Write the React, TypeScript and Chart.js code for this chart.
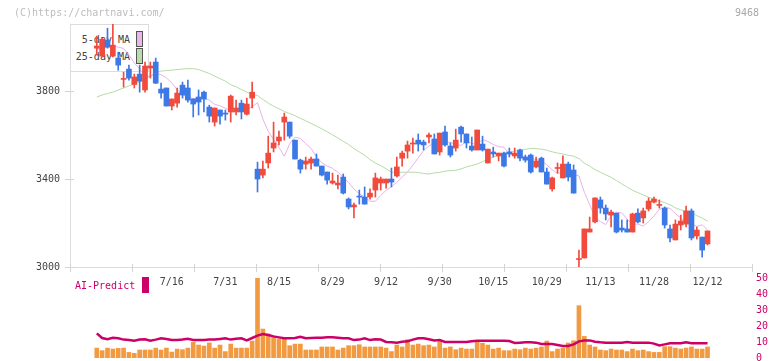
import React, { useEffect, useRef } from "react";
import { Chart, registerables } from "chart.js";
Chart.register(...registerables);

const FONT = "'DejaVu Sans Mono', monospace";
const UP = "#f04b3c";
const DOWN = "#3c78e6";

// x positions are trading-day indices (6/26 .. 12/12)
const X_MIN = -5;
const X_MAX = 122.3;

const dateTicks = ["7/16", "7/31", "8/15", "8/29", "9/12", "9/30", "10/15", "10/29", "11/13", "11/28", "12/12"];
const dateTickIndex = [14, 24, 34, 44, 54, 64, 74, 84, 94, 104, 114];
const priceTicks = [3000, 3400, 3800];
const rightTicks = [0, 10, 20, 30, 40, 50];
const markSlots = [0, 1, 2, 3, 4, 5, 6, 7, 8, 9, 10, 11];

const opens = [
  3995, 3959, 4032, 3959, 3950, 3853, 3900, 3830, 3877, 3805, 3905, 3932, 3809, 3814, 3732, 3745, 3827, 3814, 3764, 3773,
  3795, 3727, 3659, 3714, 3700, 3705, 3705, 3745, 3695, 3768, 3445, 3418, 3473, 3541, 3573, 3659, 3659, 3577, 3486, 3468,
  3473, 3491, 3459, 3432, 3382, 3373, 3409, 3309, 3273, 3320, 3318, 3318, 3350, 3382, 3382, 3400, 3414, 3495, 3527, 3559,
  3577, 3568, 3591, 3582, 3523, 3614, 3550, 3541, 3636, 3605, 3550, 3532, 3559, 3473, 3523, 3505, 3518, 3523, 3505, 3532,
  3500, 3509, 3455, 3495, 3432, 3355, 3448, 3405, 3468, 3441, 3034, 3041, 3159, 3205, 3305, 3268, 3236, 3245, 3177, 3173,
  3159, 3245, 3223, 3264, 3295, 3280, 3268, 3173, 3123, 3191, 3195, 3255, 3141, 3136, 3105,
];
const highs = [
  4050, 4040, 4086, 4105, 3977, 3886, 3918, 3877, 3918, 3932, 3932, 3950, 3836, 3814, 3764, 3814, 3841, 3850, 3764, 3805,
  3800, 3736, 3723, 3714, 3714, 3782, 3759, 3759, 3768, 3841, 3477, 3482, 3595, 3659, 3618, 3700, 3659, 3577, 3491, 3500,
  3500, 3514, 3459, 3432, 3427, 3418, 3423, 3314, 3291, 3350, 3364, 3355, 3427, 3409, 3400, 3450, 3500, 3527, 3573, 3586,
  3605, 3577, 3609, 3605, 3609, 3641, 3564, 3627, 3641, 3605, 3591, 3623, 3595, 3536, 3545, 3518, 3523, 3541, 3541, 3536,
  3509, 3514, 3500, 3500, 3450, 3409, 3473, 3505, 3477, 3464, 3077, 3173, 3227, 3314, 3318, 3282, 3259, 3245, 3214, 3214,
  3245, 3264, 3268, 3314, 3318, 3305, 3273, 3191, 3214, 3236, 3277, 3264, 3182, 3136, 3164,
];
const lows = [
  3964, 3955, 3995, 3955, 3895, 3818, 3850, 3814, 3795, 3795, 3859, 3834, 3768, 3732, 3714, 3727, 3768, 3750, 3682, 3691,
  3705, 3659, 3641, 3650, 3668, 3659, 3691, 3673, 3691, 3723, 3341, 3405, 3450, 3523, 3555, 3577, 3586, 3491, 3427, 3445,
  3445, 3459, 3414, 3377, 3377, 3355, 3332, 3264, 3223, 3286, 3286, 3309, 3318, 3350, 3359, 3364, 3409, 3459, 3495, 3518,
  3527, 3532, 3564, 3514, 3509, 3550, 3500, 3527, 3568, 3541, 3527, 3532, 3527, 3473, 3500, 3482, 3455, 3500, 3495, 3482,
  3477, 3427, 3450, 3432, 3377, 3345, 3427, 3405, 3391, 3336, 3000, 3041, 3159, 3200, 3245, 3214, 3182, 3155, 3159, 3159,
  3159, 3200, 3200, 3255, 3291, 3268, 3177, 3114, 3123, 3168, 3182, 3123, 3127, 3045, 3100,
];
const closes = [
  4005, 4036, 4000, 4009, 3918, 3856, 3859, 3864, 3845, 3914, 3914, 3836, 3791, 3732, 3764, 3791, 3782, 3759, 3741, 3750,
  3764, 3686, 3723, 3686, 3695, 3777, 3723, 3705, 3741, 3795, 3400, 3445, 3518, 3564, 3591, 3682, 3595, 3491, 3445, 3482,
  3491, 3459, 3418, 3395, 3391, 3382, 3336, 3273, 3282, 3318, 3286, 3336, 3405, 3400, 3400, 3386, 3455, 3518, 3555, 3564,
  3559, 3555, 3600, 3514, 3609, 3555, 3509, 3577, 3605, 3564, 3532, 3623, 3532, 3536, 3514, 3518, 3459, 3514, 3518, 3495,
  3486, 3432, 3482, 3432, 3377, 3405, 3450, 3468, 3409, 3336, 3036, 3173, 3173, 3314, 3268, 3241, 3250, 3159, 3168, 3159,
  3241, 3205, 3255, 3300, 3309, 3282, 3191, 3132, 3195, 3209, 3255, 3132, 3168, 3077, 3164,
];
const ma5 = [
  3990, 3995, 4000, 4004, 4000, 3994, 3964, 3928, 3901, 3868, 3868, 3879, 3875, 3860, 3837, 3807, 3783, 3772, 3766, 3767,
  3765, 3759, 3740, 3733, 3722, 3711, 3713, 3721, 3717, 3728, 3748, 3673, 3617, 3580, 3544, 3504, 3560, 3590, 3585, 3561,
  3539, 3501, 3474, 3459, 3449, 3431, 3409, 3384, 3355, 3333, 3318, 3299, 3299, 3325, 3349, 3365, 3385, 3409, 3432, 3463,
  3496, 3530, 3550, 3567, 3558, 3567, 3567, 3557, 3553, 3571, 3562, 3557, 3580, 3571, 3557, 3547, 3545, 3512, 3508, 3505,
  3501, 3494, 3489, 3483, 3465, 3442, 3426, 3429, 3426, 3422, 3414, 3340, 3284, 3225, 3206, 3193, 3234, 3249, 3246, 3217,
  3195, 3195, 3186, 3206, 3232, 3262, 3270, 3267, 3243, 3222, 3202, 3196, 3185, 3192, 3168,
];
const ma25 = [
  3773, 3782, 3789, 3795, 3805, 3814, 3823, 3832, 3841, 3855, 3868, 3882, 3891, 3893, 3895, 3898, 3900, 3902, 3902, 3898,
  3889, 3880, 3868, 3857, 3845, 3829, 3820, 3807, 3795, 3785, 3780, 3762, 3745, 3731, 3720, 3707, 3698, 3688, 3676, 3665,
  3653, 3641, 3628, 3615, 3601, 3587, 3571, 3557, 3539, 3523, 3508, 3488, 3473, 3461, 3447, 3431, 3431, 3431, 3431, 3431,
  3430, 3425, 3423, 3428, 3430, 3436, 3438, 3440, 3446, 3455, 3462, 3468, 3479, 3490, 3500, 3508, 3517, 3522, 3526, 3531,
  3535, 3539, 3538, 3536, 3531, 3524, 3518, 3514, 3508, 3504, 3493, 3472, 3459, 3443, 3431, 3419, 3408, 3393, 3378, 3363,
  3349, 3338, 3328, 3317, 3309, 3301, 3293, 3283, 3269, 3260, 3253, 3247, 3234, 3222, 3209,
];
const volume = [
  6.2, 4.6, 6.2, 5.6, 6.0, 6.2, 3.5, 2.9, 5.0, 5.0, 5.0, 6.2, 5.0, 6.2, 3.7, 5.6, 5.2, 6.2, 9.8, 8.1,
  7.5, 9.4, 6.2, 8.1, 4.0, 8.7, 6.2, 6.2, 6.2, 10.6, 50.2, 18.1, 15.0, 12.9, 11.9, 11.9, 7.7, 8.7, 8.7, 5.0,
  5.0, 5.0, 6.9, 6.9, 6.9, 5.0, 6.2, 7.7, 7.7, 8.3, 6.9, 6.9, 6.9, 6.9, 6.2, 4.0, 8.1, 6.9, 11.5, 8.1,
  8.7, 7.7, 8.1, 6.9, 10.2, 6.2, 6.9, 5.2, 6.2, 5.6, 5.6, 9.8, 9.2, 8.1, 5.6, 6.2, 4.6, 4.6, 5.6, 5.2,
  6.2, 5.6, 6.2, 6.9, 10.6, 4.0, 5.6, 6.2, 9.4, 10.8, 32.7, 13.5, 8.1, 6.9, 5.0, 4.6, 5.6, 5.0, 5.0, 4.0,
  5.6, 4.6, 5.0, 4.0, 3.5, 3.5, 7.1, 7.1, 6.2, 5.6, 6.2, 6.9, 5.6, 5.6, 6.9,
];
const aiPredict = [
  15.4, 12.5, 11.7, 12.6, 12.3, 11.5, 11.3, 10.8, 11.5, 11.7, 10.8, 11.5, 12.3, 11.9, 11.2, 11.2, 11.5, 12.0, 11.2, 11.2,
  11.2, 11.5, 11.5, 11.9, 12.3, 11.5, 12.0, 12.3, 11.0, 12.5, 14.0, 15.0, 14.4, 13.5, 12.9, 12.3, 12.3, 12.5, 13.3, 12.3,
  12.5, 12.7, 12.7, 12.9, 12.9, 12.7, 12.3, 12.3, 11.2, 11.5, 12.3, 11.2, 11.7, 11.5, 10.0, 9.8, 9.6, 10.2, 10.4, 11.5,
  12.3, 12.3, 11.7, 11.0, 11.2, 10.0, 10.0, 10.0, 10.0, 10.0, 10.4, 10.8, 10.8, 10.8, 10.8, 10.8, 10.8, 10.6, 9.4, 9.6,
  9.8, 9.8, 9.6, 8.8, 8.7, 8.7, 8.1, 7.5, 7.5, 8.5, 10.4, 11.0, 11.0, 10.2, 9.8, 9.6, 9.6, 9.6, 9.6, 10.0,
  9.6, 9.6, 9.6, 9.6, 9.0, 7.8, 8.5, 9.2, 9.2, 9.2, 9.8, 9.2, 9.2, 9.2, 9.2,
];

const abs = (style: React.CSSProperties): React.CSSProperties => ({ position: "absolute", ...style });
const txt: React.CSSProperties = { fontFamily: FONT, fontSize: 10, lineHeight: "12px", whiteSpace: "pre" };

export default function App() {
  const mainRef = useRef<HTMLCanvasElement>(null);
  const subRef = useRef<HTMLCanvasElement>(null);

  useEffect(() => {
    const idx = closes.map((_, i) => i);
    const candleColor = (ctx: any) => (closes[ctx.dataIndex] >= opens[ctx.dataIndex] ? UP : DOWN);
    const font = { family: FONT, size: 10 };

    const crossTicks = {
      id: "crossTicks",
      beforeDatasetsDraw(chart: any) {
        const { ctx, chartArea } = chart;
        const y = chart.scales.y;
        const xg = chart.scales.xg;
        ctx.save();
        ctx.strokeStyle = "#d4d4d4";
        ctx.lineWidth = 1;
        ctx.beginPath();
        for (const v of priceTicks) {
          const py = Math.round(y.getPixelForValue(v)) + 0.5;
          ctx.moveTo(chartArea.left - 5, py);
          ctx.lineTo(chartArea.left + 4, py);
        }
        for (const v of markSlots) {
          const px = Math.round(xg.getPixelForValue(v)) + 0.5;
          ctx.moveTo(px, chartArea.bottom - 3);
          ctx.lineTo(px, chartArea.bottom + 5);
        }
        ctx.stroke();
        ctx.restore();
      },
    };

    const main = new Chart(mainRef.current!, {
      type: "bar",
      data: {
        datasets: [
          {
            type: "line",
            data: idx.map((i) => ({ x: i, y: ma25[i] })),
            borderColor: "#b4dba4",
            borderWidth: 1,
            pointRadius: 0,
            tension: 0,
            order: 4,
          } as any,
          {
            type: "line",
            data: idx.map((i) => ({ x: i, y: ma5[i] })),
            borderColor: "#e8b2e8",
            borderWidth: 1,
            pointRadius: 0,
            tension: 0,
            order: 3,
          } as any,
          {
            type: "bar",
            data: idx.map((i) => ({ x: i, y: [lows[i], highs[i]] })),
            backgroundColor: candleColor,
            barThickness: 1,
            grouped: false,
            order: 2,
          } as any,
          {
            type: "bar",
            data: idx.map((i) => ({ x: i, y: [opens[i], closes[i]] })),
            backgroundColor: candleColor,
            barThickness: 5,
            minBarLength: 1,
            grouped: false,
            order: 1,
          } as any,
        ],
      },
      options: {
        responsive: false,
        animation: false,
        devicePixelRatio: 1,
        events: [],
        layout: { padding: { left: 0, right: 20, top: 24, bottom: 0 } },
        plugins: { legend: { display: false }, tooltip: { enabled: false } },
        scales: {
          x: {
            type: "linear",
            min: X_MIN,
            max: X_MAX,
            offset: false,
            position: "bottom",
            afterBuildTicks: (s: any) => {
              s.ticks = dateTickIndex.map((v) => ({ value: v }));
            },
            afterFit: (s: any) => {
              s.height = 94;
              s.paddingLeft = 0;
              s.paddingRight = 0;
            },
            ticks: {
              autoSkip: false,
              maxRotation: 0,
              padding: 9,
              color: "#444",
              font,
              callback: (v: any) => {
                const k = dateTickIndex.indexOf(Number(v));
                return k >= 0 ? dateTicks[k] : "";
              },
            },
            grid: { drawOnChartArea: false, drawTicks: false, offset: false },
            border: { color: "#dcdcdc" },
          },
          xg: {
            type: "linear",
            min: markSlots[0],
            max: markSlots[markSlots.length - 1],
            offset: false,
            position: "bottom",
            ticks: { display: false },
            grid: { display: false, offset: false },
            border: { display: false },
            afterFit: (s: any) => {
              s.height = 0;
            },
          },
          y: {
            type: "linear",
            min: 3000,
            max: 4105,
            position: "left",
            afterBuildTicks: (s: any) => {
              s.ticks = priceTicks.map((v) => ({ value: v }));
            },
            afterFit: (s: any) => {
              s.width = 70;
              s.paddingTop = 0;
              s.paddingBottom = 0;
            },
            ticks: { padding: 10, color: "#444", font, callback: (v: any) => String(v) },
            grid: { drawOnChartArea: false, drawTicks: false },
            border: { color: "#dcdcdc" },
          },
        },
      } as any,
      plugins: [crossTicks],
    });

    const sub = new Chart(subRef.current!, {
      type: "bar",
      data: {
        datasets: [
          {
            type: "line",
            data: idx.map((i) => ({ x: i, y: aiPredict[i] })),
            borderColor: "#cc0066",
            borderWidth: 2.5,
            pointRadius: 0,
            tension: 0,
            yAxisID: "y",
            order: 1,
          } as any,
          {
            type: "bar",
            data: idx.map((i) => ({ x: i, y: volume[i] })),
            backgroundColor: "#f29a42",
            barThickness: 4,
            grouped: false,
            yAxisID: "yv",
            order: 2,
          } as any,
        ],
      },
      options: {
        responsive: false,
        animation: false,
        devicePixelRatio: 1,
        events: [],
        layout: { padding: { left: 70, right: 0, top: 278, bottom: 3 } },
        plugins: { legend: { display: false }, tooltip: { enabled: false } },
        scales: {
          x: { type: "linear", min: X_MIN, max: X_MAX, offset: false, display: false },
          y: {
            type: "linear",
            position: "right",
            min: 0,
            max: 50,
            afterBuildTicks: (s: any) => {
              s.ticks = rightTicks.map((v) => ({ value: v }));
            },
            afterFit: (s: any) => {
              s.width = 20;
              s.paddingTop = 0;
              s.paddingBottom = 0;
            },
            ticks: { padding: 4, color: "#cc0066", font, callback: (v: any) => String(v) },
            grid: { display: false, drawTicks: false },
            border: { display: false },
          },
          yv: { type: "linear", display: false, min: 0, max: 50 },
        },
      } as any,
    });

    return () => {
      main.destroy();
      sub.destroy();
    };
  }, []);

  return (
    <div style={{ position: "fixed", left: 0, top: 0, width: 772, height: 361, background: "#fff", overflow: "hidden" }}>
      <div style={abs({ left: 70, top: 24, width: 79, height: 48, boxSizing: "border-box", border: "1px solid #dcdcdc", background: "#fff" })} />
      <div style={abs({ ...txt, left: 60, top: 34, width: 70, textAlign: "right", color: "#444" })}>5-day MA</div>
      <div style={abs({ ...txt, left: 60, top: 51, width: 70, textAlign: "right", color: "#444" })}>25-day MA</div>
      <div style={abs({ left: 136, top: 31, width: 7, height: 16, boxSizing: "border-box", border: "1px solid #555", background: "#e8b8e8" })} />
      <div style={abs({ left: 136, top: 48, width: 7, height: 16, boxSizing: "border-box", border: "1px solid #555", background: "#b9dcaa" })} />
      <canvas ref={mainRef} width={772} height={361} style={abs({ left: 0, top: 0 })} />
      <canvas ref={subRef} width={772} height={361} style={abs({ left: 0, top: 0 })} />
      <div style={abs({ ...txt, left: 14, top: 7, color: "#bdbdbd" })}>(C)https://chartnavi.com/</div>
      <div style={abs({ ...txt, left: 735, top: 7, color: "#a8a8a8" })}>9468</div>
      <div style={abs({ ...txt, left: 75, top: 280, color: "#cc0066" })}>AI-Predict</div>
      <div style={abs({ left: 142, top: 277, width: 7, height: 16, background: "#cc0066" })} />
    </div>
  );
}
